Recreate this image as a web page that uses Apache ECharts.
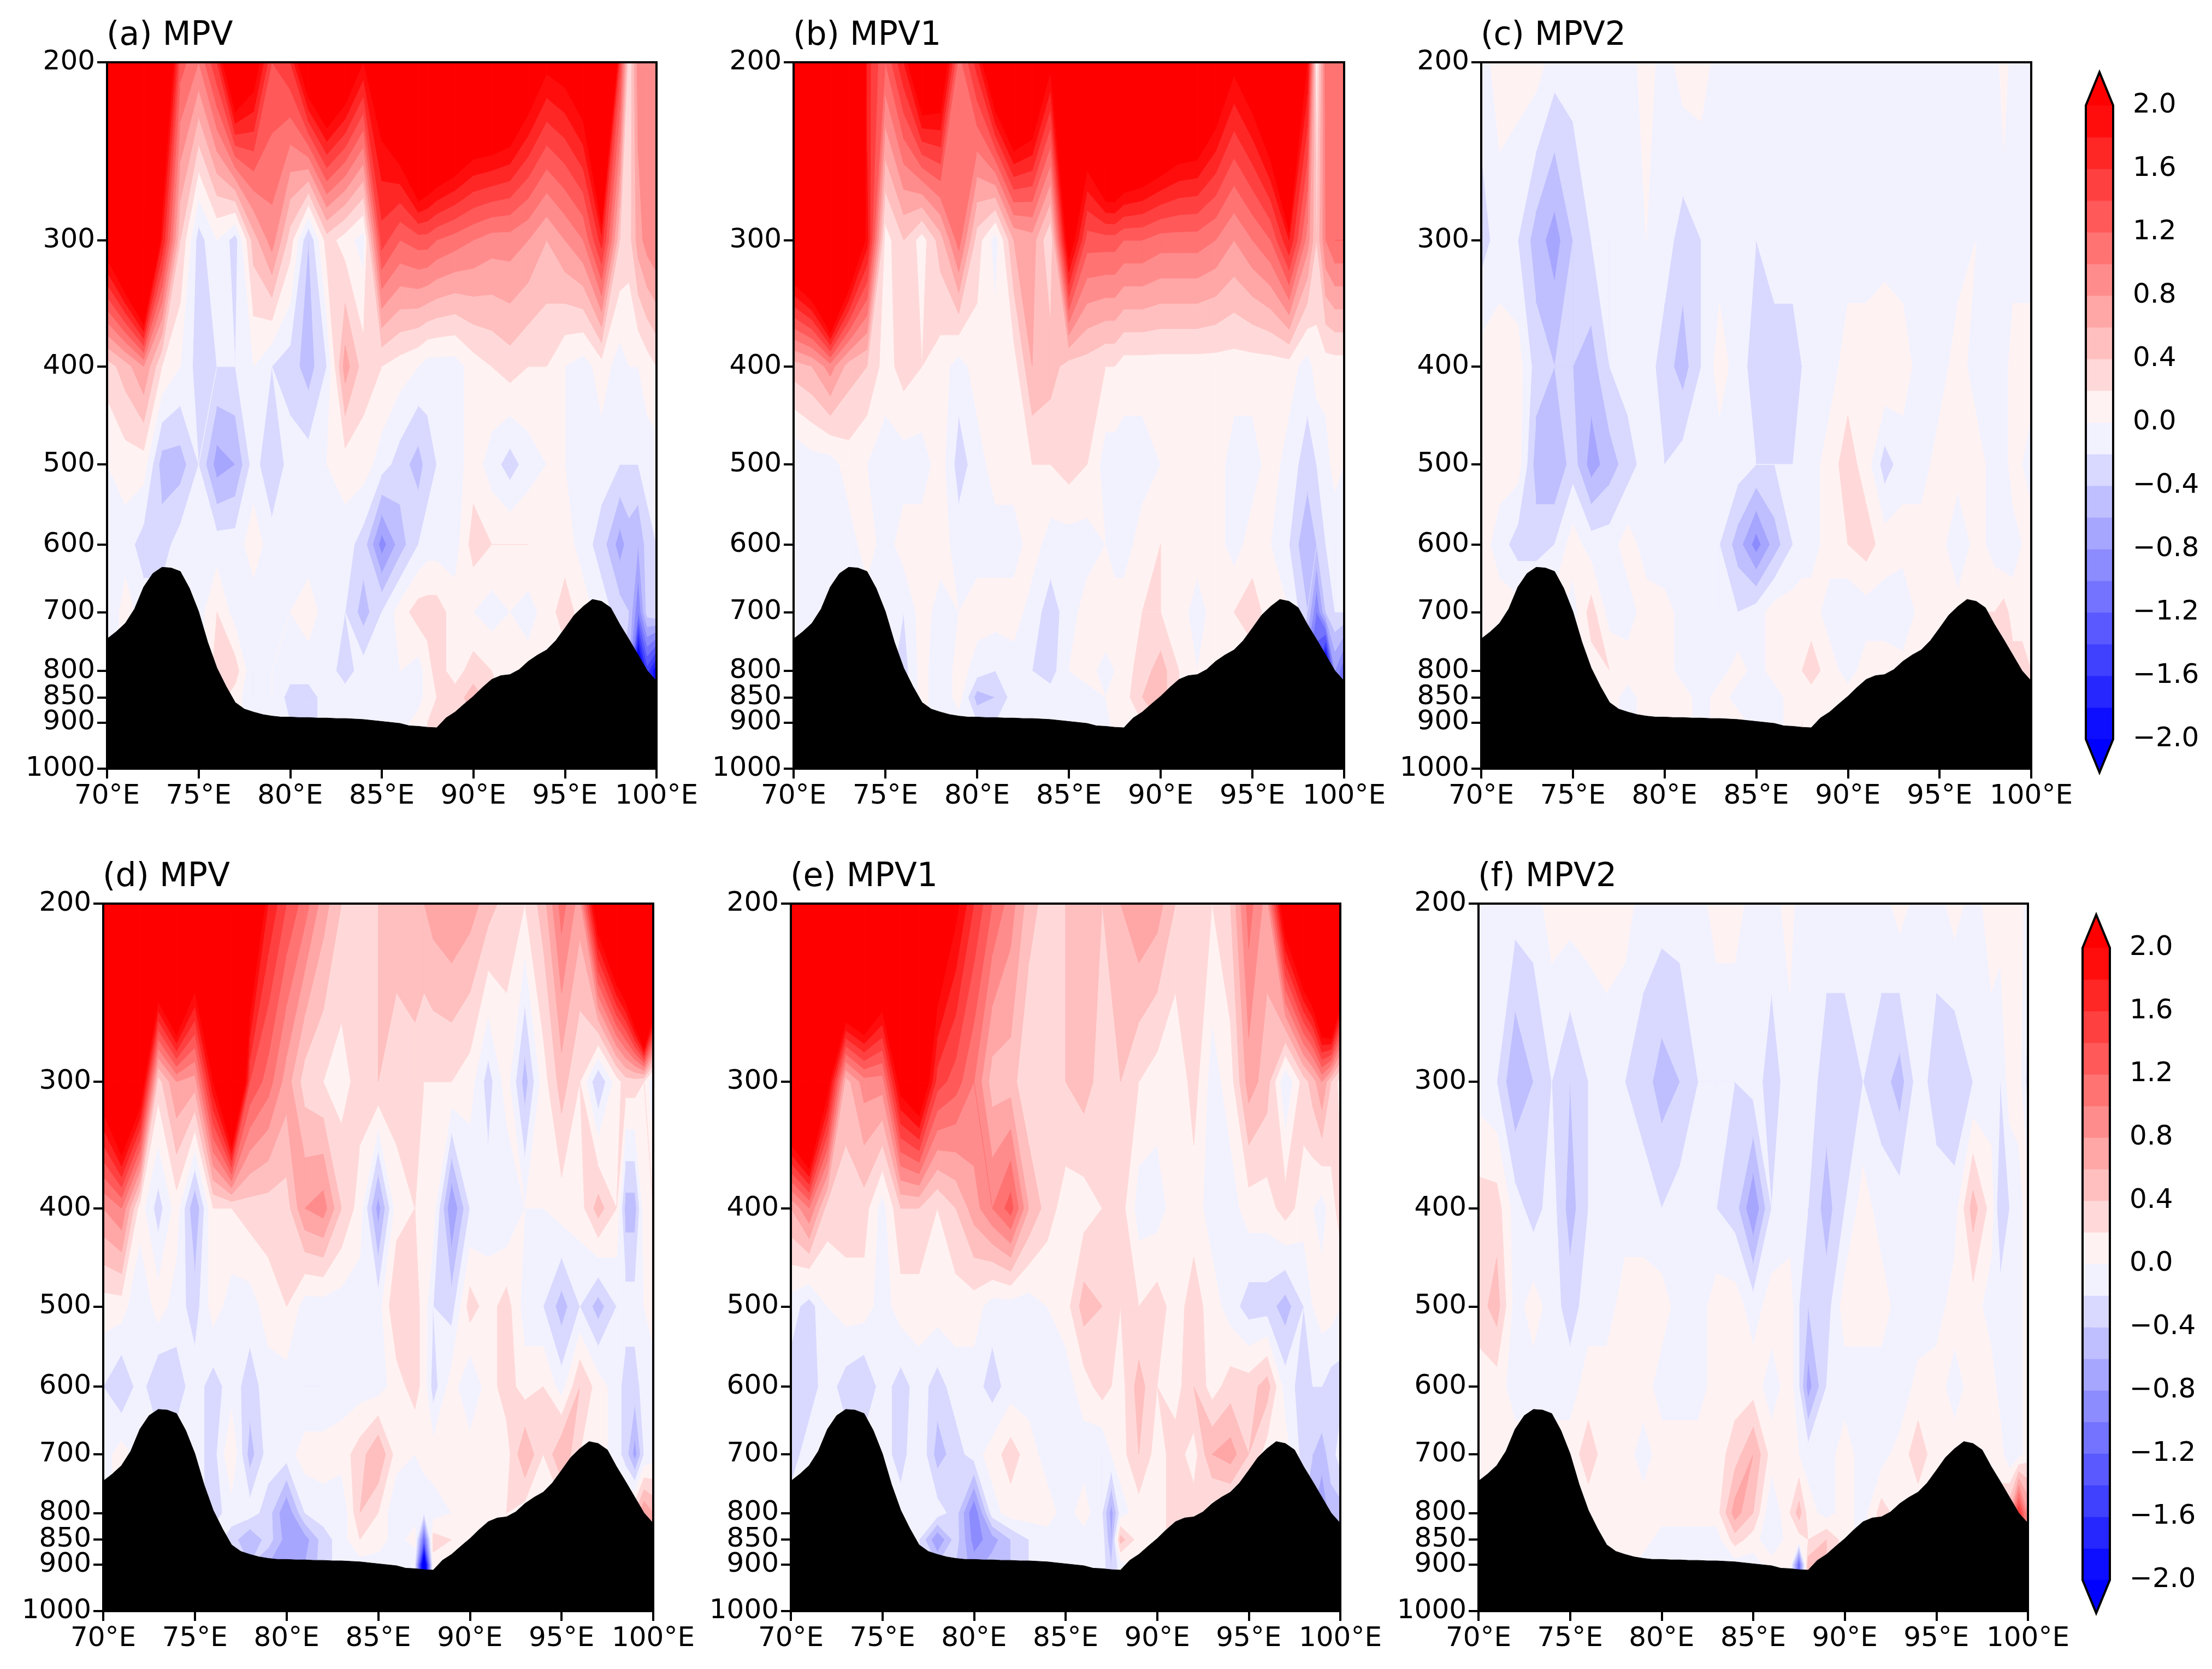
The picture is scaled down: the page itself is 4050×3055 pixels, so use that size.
<!DOCTYPE html>
<html><head><meta charset="utf-8">
<style>html,body{margin:0;padding:0;background:#fff}#c{width:4050px;height:3055px}</style>
<script src="https://cdn.jsdelivr.net/npm/echarts@6/dist/echarts.min.js"></script>
</head><body><div id="c"></div>
<script>
// Values are MPV, in tenths of a unit.
const lons=[70,71,72,73,74,75,76,77,78,79,80,81,82,83,84,85,86,87,87.5,88,89,90,91,92,93,94,95,96,97,98,98.5,99,99.5,100];
const pressures=[200,300,400,500,600,700,800,850,900];
const mpvA=[
[90,90,90,32,13,10,16,29,23,14,16,26,30,26,20,24,31,45,41,39,36,32,32,30,25,21,22,25,50,15,2,9,8,10],
[23,31,44,18,4,-3,0,-3,5,9,3,-4,3,1,-1,15,12,13,13,12,11,10,9,9,8,6,8,10,17,4,3,7,9,10],
[3,5,8,2,0,-3,-2,-2,0,-2,-3,-5,-2,7,3,2,1,0,-1,-1,-1,1,2,3,2,2,0,-1,1,-1,0,0,1,2],
[0,1,1,-5,-5,-2,-7,-6,-1,-4,-1,-1,0,1,1,-1,-3,-5,-3,-2,-1,1,-1,-3,-1,0,0,-2,-1,-2,-2,-2,-1,-1],
[-2,-1,-3,-3,-1,-1,-1,-1,1,-1,-2,-1,-1,-1,-3,-9,-5,-2,-1,-1,-1,3,2,2,2,1,1,-1,-3,-7,-5,-6,-3,-2],
[-2,1,-1,-1,-1,-1,2,-1,-1,-1,0,1,-1,-2,-5,-2,1,3,3,3,1,0,-1,0,-1,1,3,1,-1,-3,-4,-10,-3,-2],
[-2,1,-1,-1,-1,-1,3,3,-2,0,-1,-1,-1,-3,-1,-1,0,-1,1,3,1,3,2,1,1,1,1,1,1,-3,-6,-25,-15,-20],
[0,0,0,0,0,0,3,1,-2,0,-3,-3,-1,-1,-2,-1,-1,-1,1,2,3,5,3,1,1,1,1,1,1,-3,-6,-25,-15,-20],
[0,0,0,0,0,0,1,1,-1,-1,-2,-3,-1,-1,-1,-1,-1,1,2,2,3,4,3,1,1,1,1,1,1,-3,-6,-25,-15,-20]];
const mpvB=[
[90,90,90,70,17,12,18,28,26,11,17,28,34,30,21,25,31,45,46,42,39,36,32,31,26,21,24,30,60,20,1,11,10,10],
[28,33,50,30,19,1,4,1,5,11,3,-1,6,7,2,23,13,13,13,12,12,11,11,11,10,8,10,12,18,9,4,10,12,12],
[5,6,9,5,4,1,3,2,1,-1,1,1,1,6,5,3,3,2,2,1,1,1,1,1,1,1,1,1,1,-1,1,1,1,1],
[-2,-1,-1,1,0,-1,-1,-1,1,-3,-1,1,1,2,2,3,2,-1,-1,-1,-1,0,1,1,1,-1,-1,1,-1,-3,-2,-1,1,0],
[-2,-2,-1,-1,1,-1,1,1,1,-1,-1,-1,-1,1,-1,-1,-1,0,-1,-1,1,2,1,1,1,-1,1,0,-2,-6,-4,-2,-2,-2],
[-2,-1,-1,-1,-1,-1,-2,1,-1,0,1,1,1,-1,-3,-1,1,2,1,1,2,2,1,-1,1,2,3,1,0,-4,-10,-4,-2,-2],
[-2,-1,-1,-1,-1,-1,-3,1,-2,1,-1,-2,-1,-2,-3,0,1,-1,0,1,3,5,2,0,1,1,1,1,1,-10,-14,-25,-8,-12],
[0,0,0,0,0,0,-3,1,-2,1,-5,-4,-1,-1,-1,-1,-1,0,0,1,4,5,2,0,1,1,1,1,1,-10,-14,-25,-8,-12],
[0,0,0,0,0,0,-1,1,-2,-1,-2,-2,-1,-1,-1,-2,-1,-1,1,1,2,4,2,0,1,1,1,1,1,-10,-14,-25,-8,-12]];
const mpvC=[
[-1,1,1,1,-1,-1,-1,-1,-1,1,-1,1,1,-1,-1,-1,-1,-1,-1,-1,-1,-1,-1,-1,-1,-1,-1,-1,-1,-1,1,-1,-1,-1],
[-3,-1,-2,-5,-7,-4,-2,-2,-1,0,-1,-3,-2,-1,-2,-2,-1,-1,-1,-1,-1,-1,-1,-1,-1,-1,-1,-1,0,-1,-1,-1,-1,-1],
[1,1,1,-3,-4,-4,-5,-2,-1,-1,-3,-5,-2,1,-1,-3,-3,-3,-2,-2,-1,1,1,2,1,-1,-1,1,-1,-1,-1,1,1,1],
[1,1,1,-5,-6,-3,-7,-5,-3,-1,-2,-1,-1,-1,-1,-2,-2,-2,-1,-1,1,3,1,-3,-1,-1,1,1,1,-1,-1,1,0,-1],
[1,-1,-3,-3,-2,1,-1,-1,1,-1,-2,-1,-1,-2,-5,-9,-5,-2,-1,-1,1,2,3,1,1,1,1,-2,1,-1,-2,-1,0,1],
[1,1,1,1,1,-1,3,-1,-1,1,1,-1,-1,-2,-2,-1,1,1,1,1,-1,-2,-1,-1,-2,1,0,1,2,2,3,1,1,1],
[1,1,1,1,1,1,1,2,1,1,1,-1,-1,-1,1,-1,1,1,2,3,1,-1,1,1,1,1,1,1,1,2,2,3,3,2],
[0,0,0,0,0,0,1,1,-1,1,1,1,-1,1,-1,-1,-1,1,1,1,1,1,1,1,1,1,1,1,1,2,2,3,3,2],
[0,0,0,0,0,0,1,1,-1,1,1,1,-1,1,1,-1,-1,1,2,1,1,1,1,1,1,1,1,1,1,2,2,3,3,2]];
const mpvD=[
[70,70,70,41,54,33,70,60,30,18,14,11,7,4,3,4,5,6,6,7,8,7,5,3,2,5,11,7,25,36,41,59,97,59],
[24,34,25,3,8,7,20,39,14,11,7,3,2,1,3,4,3,3,2,2,2,1,-3,1,-5,1,5,2,-4,1,3,3,2,-2],
[8,10,1,-3,1,-6,2,2,3,3,3,8,9,4,1,-7,1,2,1,1,-8,-2,-1,-2,0,0,1,1,5,2,-5,-5,1,2],
[1,1,-2,1,-1,-3,1,-1,-1,1,2,-1,-1,-1,-1,-1,4,3,1,-2,-3,3,1,3,-1,-2,-5,-2,-5,-2,-1,-1,0,1],
[-2,-4,-1,-4,-3,-1,-3,-1,-3,-1,-1,-2,-2,-1,-1,-1,1,3,1,-3,1,-2,1,3,1,2,-1,4,1,-1,-3,-3,-1,-1],
[-1,1,-1,-1,-1,-1,-3,2,-5,-1,-1,1,1,1,3,6,1,0,1,1,1,1,1,1,6,2,6,2,1,-1,-3,-7,-2,-1],
[-1,1,-1,-1,-1,-1,-3,-1,-1,-3,-8,-2,-1,-2,4,2,-2,-1,-2,-1,0,1,1,2,1,1,1,1,1,1,2,4,8,6],
[0,0,0,0,0,0,-1,-3,-6,-3,-7,-7,-3,-1,2,1,-1,1,-12,3,2,1,1,2,1,1,1,1,1,1,2,4,8,6],
[0,0,0,0,0,0,-1,-3,-4,-6,-8,-6,-3,-1,-1,-1,-1,-2,-26,1,1,1,1,2,1,1,1,1,1,1,2,4,8,6]];
const mpvE=[
[70,70,70,50,51,37,70,70,27,21,16,12,9,5,3,4,4,4,5,6,8,7,4,3,2,4,11,7,25,36,41,56,70,46],
[34,42,22,5,9,9,22,26,15,13,10,5,5,2,3,4,5,3,3,4,2,1,0,3,-1,1,7,5,-2,3,5,8,4,1],
[6,10,3,3,3,-1,4,4,2,4,7,10,13,6,3,1,1,2,3,3,-1,-1,1,1,-1,-1,1,1,3,1,0,-1,1,3],
[-1,-3,0,1,1,-1,1,1,1,1,1,-1,-1,-1,0,1,5,4,3,2,2,3,1,3,1,-1,-3,-3,-5,-2,0,1,1,0],
[-3,-3,-1,-3,-4,-1,-3,-1,-3,-1,-1,-3,-1,-1,-1,-1,1,3,2,1,5,2,1,4,1,3,3,5,-1,-3,-2,-2,-3,-3],
[-3,-1,-1,-1,-1,-1,-3,0,-5,-3,-1,1,3,1,-1,-1,-1,-2,0,1,4,1,3,1,6,7,4,1,1,-3,-4,-5,-3,-1],
[-1,-1,-1,-1,-1,-1,-1,-1,-1,-3,-10,-1,1,1,1,-1,1,-2,-7,-1,1,1,3,3,1,1,1,1,1,-4,-6,-8,-5,-5],
[0,0,0,0,0,0,-1,-2,-8,-3,-9,-7,-4,-2,-1,-1,-1,-1,-6,5,1,1,3,3,1,1,1,1,1,-4,-6,-8,-5,-5],
[0,0,0,0,0,0,-1,-2,-4,-4,-7,-5,-4,-2,-1,-1,-1,-1,-4,-1,1,1,3,3,1,1,1,1,1,-4,-6,-8,-5,-5]];
const mpvF=[
[-1,-1,-1,-1,1,1,1,1,1,-1,-1,-1,-1,1,1,-1,-1,1,-1,-1,-1,-1,-1,-1,1,-1,-1,1,-1,1,1,1,1,-1],
[-1,-2,-6,-4,-2,-4,-2,-1,-2,-3,-5,-4,-2,-2,-2,-1,-3,-1,-1,-1,-3,-3,-2,-3,-5,-1,-3,-4,-2,-1,-2,1,1,-3],
[3,3,-1,-3,-1,-5,-2,-1,-1,-1,-2,-1,-2,-2,-3,-8,-2,-1,-1,-2,-5,-2,1,-1,-1,-1,-1,-1,5,1,-4,-2,-1,1],
[3,5,-1,1,-1,-3,-1,-1,1,1,1,-1,-1,1,1,-1,1,1,-2,-4,-3,1,1,1,-1,-2,-1,1,1,-1,-1,-1,-1,1],
[1,1,-1,-1,-1,-1,1,1,1,1,-1,-1,-1,1,1,1,-1,1,-2,-7,-2,-1,-1,-1,-2,1,1,-1,1,1,-1,-2,-1,1],
[1,1,1,1,1,1,3,1,1,-1,1,1,1,1,3,6,1,1,0,-1,-1,1,-1,-1,1,3,1,1,1,1,1,-2,-1,1],
[1,1,1,1,1,1,1,1,1,1,1,1,1,1,7,4,-2,2,5,1,-1,1,-1,3,1,1,1,1,1,1,3,6,16,8],
[0,0,0,0,0,0,1,1,1,1,-1,-1,-1,-1,3,1,-2,1,1,2,4,1,-1,3,1,1,1,1,1,1,3,6,16,8],
[0,0,0,0,0,0,1,1,1,-1,-1,-1,-1,-1,-1,-1,1,1,-12,5,4,1,-1,3,1,1,1,1,1,1,3,6,16,8]];
// Terrain surface pressure, every half degree from 70E to 100E.
const terrain=[744,732,718,695,661,641,632,633,638,663,699,750,795,829,860,873,879,884,887,889,889,890,890,891,891,892,892,893,894,896,898,900,902,907,908,910,911,891,879,863,848,831,816,809,807,798,783,772,763,747,726,705,691,680,683,693,720,745,772,800,819];
const titles=['(a) MPV','(b) MPV1','(c) MPV2','(d) MPV','(e) MPV1','(f) MPV2'];
const fields=[mpvA,mpvB,mpvC,mpvD,mpvE,mpvF];
const pTicks=[200,300,400,500,600,700,800,850,900,1000];
const levels=[-2,-1.8,-1.6,-1.4,-1.2,-1,-0.8,-0.6,-0.4,-0.2,0,0.2,0.4,0.6,0.8,1,1.2,1.4,1.6,1.8,2];
const cbarTip=2.21;
// Layout
const boxes=[[196,114,1006,1293],[1453,114,1008,1293],[2712,114,1007,1293],[189,1654,1007,1295],[1448,1654,1006,1295],[2707,1654,1006,1295]];
const cbars=[[3819,193,50,1160],[3813,1735,50,1157]];

function bwr(m){const t=Math.round(255*(1-Math.abs(m)/2));return m>=0?`rgb(255,${t},${t})`:`rgb(${t},${t},255)`;}
const bands=[[-Infinity,-2,'rgb(0,0,255)']];
for(let i=0;i<levels.length-1;i++)bands.push([levels[i],levels[i+1],bwr((levels[i]+levels[i+1])/2)]);
bands.push([2,Infinity,'rgb(255,0,0)']);

function clipAt(poly,lv,above){
  const out=[];
  for(let i=0;i<poly.length;i++){
    const a=poly[i],b=poly[(i+1)%poly.length];
    const ina=above?a[2]>=lv:a[2]<=lv, inb=above?b[2]>=lv:b[2]<=lv;
    if(ina)out.push(a);
    if(ina!==inb){const t=(lv-a[2])/(b[2]-a[2]);out.push([a[0]+t*(b[0]-a[0]),a[1]+t*(b[1]-a[1]),lv]);}
  }
  return out;
}
function contourItem(params,api){
  const x0=api.value(0),x1=api.value(1),y0=api.value(2),y1=api.value(3);
  const v=[api.value(4),api.value(5),api.value(6),api.value(7)];
  const c=[api.coord([x0,y0]),api.coord([x1,y0]),api.coord([x1,y1]),api.coord([x0,y1])];
  const base=c.map((p,i)=>[p[0],p[1],v[i]]);
  const vmin=Math.min(...v),vmax=Math.max(...v),children=[];
  for(const [lo,hi,col] of bands){
    if(hi<vmin||lo>vmax)continue;
    let poly=base;
    if(lo>-Infinity)poly=clipAt(poly,lo,true);
    if(poly.length&&hi<Infinity)poly=clipAt(poly,hi,false);
    if(poly.length<3)continue;
    children.push({type:'polygon',shape:{points:poly.map(p=>[p[0],p[1]])},style:{fill:col,stroke:col,lineWidth:1},silent:true});
  }
  return {type:'group',children};
}
function cellData(field){
  const out=[],pr=pressures.concat([1000]);
  for(let j=0;j<pr.length-1;j++){
    const r0=field[j],r1=field[Math.min(j+1,field.length-1)];
    for(let i=0;i<lons.length-1;i++){
      out.push([lons[i],lons[i+1],pr[j],pr[j+1],r0[i]/10,r0[i+1]/10,r1[i+1]/10,r1[i]/10]);
    }
  }
  return out;
}
function cbarItem(params,api){
  const kind=api.value(0),lo=api.value(1),hi=api.value(2);
  if(kind===0){
    const a=api.coord([0,hi]),b=api.coord([1,lo]);
    const col=bwr((lo+hi)/2);
    return {type:'rect',shape:{x:a[0],y:a[1],width:b[0]-a[0],height:b[1]-a[1]},style:{fill:col,stroke:col,lineWidth:1},silent:true};
  }
  if(kind===1){
    const pts=[[0,lo],[1,lo],[0.5,hi]].map(p=>api.coord(p));
    return {type:'polygon',shape:{points:pts},style:{fill:hi>0?'rgb(255,0,0)':'rgb(0,0,255)'},silent:true};
  }
  const pts=[[0,2],[0.5,cbarTip],[1,2],[1,-2],[0.5,-cbarTip],[0,-2]].map(p=>api.coord(p));
  return {type:'polygon',shape:{points:pts},style:{fill:'none',stroke:'#000',lineWidth:4},silent:true,z2:10};
}
const TICK=50;
const grid=[],xAxis=[],yAxis=[],series=[],title=[],graphic=[];
boxes.forEach((b,k)=>{
  grid.push({left:b[0],top:b[1],width:b[2],height:b[3],containLabel:false});
  xAxis.push({gridIndex:k,type:'value',min:70,max:100,interval:5,splitLine:{show:false},
    axisLine:{show:false},
    axisTick:{show:true,length:18,lineStyle:{color:'#000',width:4}},
    axisLabel:{show:true,margin:26,fontFamily:'DejaVu Sans',fontSize:TICK,color:'#000',formatter:v=>v+'°E',showMinLabel:true,showMaxLabel:true}});
  yAxis.push({gridIndex:k,type:'log',logBase:10,min:200,max:1000,inverse:true,splitLine:{show:false},minorTick:{show:false},
    axisLine:{show:false},
    axisTick:{show:true,length:18,customValues:pTicks,lineStyle:{color:'#000',width:4}},
    axisLabel:{show:true,margin:22,padding:[10,0,0,0],fontFamily:'DejaVu Sans',fontSize:TICK,color:'#000',customValues:pTicks,formatter:v=>String(Math.round(v))}});
  series.push({type:'custom',name:titles[k],xAxisIndex:k,yAxisIndex:k,renderItem:contourItem,data:cellData(fields[k]),
    encode:{x:[0,1],y:[2,3]},animation:false,progressive:0,silent:true,z:2,clip:true});
  series.push({type:'line',xAxisIndex:k,yAxisIndex:k,data:terrain.map((p,i)=>[70+i*0.5,p]),symbol:'none',showSymbol:false,
    lineStyle:{color:'#000',width:1},areaStyle:{color:'#000',opacity:1,origin:'end'},animation:false,silent:true,z:5});
  title.push({text:titles[k],left:b[0]-1,top:b[1]-78,padding:0,textStyle:{fontFamily:'DejaVu Sans',fontSize:60,fontWeight:'normal',color:'#000'}});
  graphic.push({type:'rect',shape:{x:b[0],y:b[1],width:b[2],height:b[3]},style:{fill:'none',stroke:'#000',lineWidth:4},z:100,silent:true});
});
const cbarData=[];
for(let i=0;i<levels.length-1;i++)cbarData.push([0,levels[i],levels[i+1]]);
cbarData.push([1,2,cbarTip],[1,-2,-cbarTip],[2,0,0]);
cbars.forEach((b,n)=>{
  const k=boxes.length+n;
  grid.push({left:b[0],top:b[1],width:b[2],height:b[3]});
  xAxis.push({gridIndex:k,type:'value',min:0,max:1,show:false,splitLine:{show:false}});
  yAxis.push({gridIndex:k,type:'value',min:-2,max:2,interval:0.4,position:'right',splitLine:{show:false},
    axisLine:{show:false},
    axisTick:{show:true,length:18,lineStyle:{color:'#000',width:4}},
    minorTick:{show:true,splitNumber:2,length:11,lineStyle:{color:'#000',width:4}},
    axisLabel:{show:true,margin:36,padding:[10,0,0,0],fontFamily:'DejaVu Sans',fontSize:TICK,color:'#000',formatter:v=>v.toFixed(1).replace('-','\u2212')}});
  series.push({type:'custom',xAxisIndex:k,yAxisIndex:k,renderItem:cbarItem,data:cbarData,encode:{x:[],y:[1,2]},animation:false,silent:true,z:2,clip:false});
});
const chart=echarts.init(document.getElementById('c'),null,{renderer:'canvas',width:4050,height:3055});
chart.setOption({backgroundColor:'#fff',animation:false,title,grid,xAxis,yAxis,series,graphic:{elements:graphic}});
</script></body></html>
